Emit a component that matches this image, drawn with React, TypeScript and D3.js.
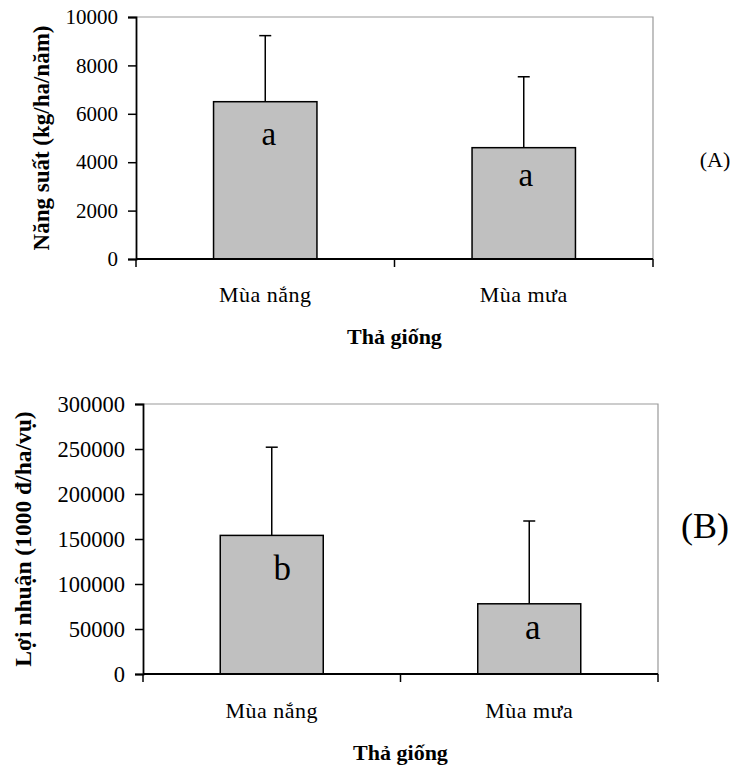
import { useEffect, useRef } from "react";
import * as d3 from "d3";

// mùa vụ
const seasons = ["Mùa nắng", "Mùa mưa"];

// (A) năng suất
const yieldMean = [6500, 4600];
const yieldErr = [2730, 2930];
const yieldLetters = ["a", "a"];
const yieldTicks = [0, 2000, 4000, 6000, 8000, 10000];

// (B) lợi nhuận
const profitMean = [154000, 78000];
const profitErr = [98000, 92000];
const profitLetters = ["b", "a"];
const profitTicks = [0, 50000, 100000, 150000, 200000, 250000, 300000];

const FONT = "'Liberation Serif', 'Times New Roman', serif";

type PanelProps = {
  left: number; right: number; top: number; bottom: number;
  yMax: number; ticks: number[]; means: number[]; errs: number[]; letters: string[];
  letterDx: number[]; letterY: number[]; letterSize: number; tickSize: number; labelSize: number;
  yLabel: string; yLabelX: number; panelTag: string; tagX: number; tagY: number; tagSize: number;
  catLabelY: number; titleY: number;
};

const drawPanel = (svg: d3.Selection<SVGSVGElement, unknown, null, undefined>, p: PanelProps) => {
  const g = svg.append("g");

  const x = d3.scaleBand().domain(seasons).range([p.left, p.right]).paddingInner(0).paddingOuter(0);
  const y = d3.scaleLinear().domain([0, p.yMax]).range([p.bottom, p.top]);
  const barW = x.bandwidth() * 0.4;

  // khung xám (trên, phải)
  g.append("path")
    .attr("d", `M${p.left},${p.top}H${p.right}V${p.bottom}`)
    .attr("fill", "none")
    .attr("stroke", "#999")
    .attr("stroke-width", 1.2);

  // cột
  g.selectAll("rect.bar")
    .data(p.means)
    .join("rect")
    .attr("class", "bar")
    .attr("x", (d, i) => x(seasons[i])! + x.bandwidth() / 2 - barW / 2)
    .attr("y", d => y(d))
    .attr("width", barW)
    .attr("height", d => p.bottom - y(d))
    .attr("fill", "#c0c0c0")
    .attr("stroke", "#000")
    .attr("stroke-width", 1.5);

  // thanh sai số
  p.means.forEach((m, i) => {
    const cx = x(seasons[i])! + x.bandwidth() / 2;
    g.append("line")
      .attr("x1", cx).attr("x2", cx)
      .attr("y1", y(m)).attr("y2", y(m + p.errs[i]))
      .attr("stroke", "#000").attr("stroke-width", 1.5);
    g.append("line")
      .attr("x1", cx - 6).attr("x2", cx + 6)
      .attr("y1", y(m + p.errs[i])).attr("y2", y(m + p.errs[i]))
      .attr("stroke", "#000").attr("stroke-width", 1.5);

    g.append("text")
      .text(p.letters[i])
      .attr("x", cx + p.letterDx[i])
      .attr("y", p.letterY[i])
      .attr("text-anchor", "middle")
      .attr("font-family", FONT)
      .attr("font-size", p.letterSize);
  });

  // trục y
  const yAxis = g.append("g")
    .attr("transform", `translate(${p.left},0)`)
    .call(d3.axisLeft(y).tickValues(p.ticks).tickSize(8).tickPadding(10).tickFormat(d3.format("d")));
  yAxis.select(".domain").attr("stroke", "#000").attr("stroke-width", 1.8);
  yAxis.selectAll(".tick line").attr("stroke", "#000").attr("stroke-width", 1.5);
  yAxis.selectAll("text")
    .attr("font-family", FONT)
    .attr("font-size", p.tickSize)
    .attr("fill", "#000");

  // trục x
  g.append("line")
    .attr("x1", p.left).attr("x2", p.right)
    .attr("y1", p.bottom).attr("y2", p.bottom)
    .attr("stroke", "#000").attr("stroke-width", 1.8);
  const bounds = [p.left, ...seasons.map(s => x(s)! + x.bandwidth())];
  g.selectAll("line.xtick")
    .data(bounds)
    .join("line")
    .attr("class", "xtick")
    .attr("x1", d => d).attr("x2", d => d)
    .attr("y1", p.bottom).attr("y2", p.bottom + 8)
    .attr("stroke", "#000").attr("stroke-width", 1.5);

  g.selectAll("text.cat")
    .data(seasons)
    .join("text")
    .attr("class", "cat")
    .text(d => d)
    .attr("x", d => x(d)! + x.bandwidth() / 2)
    .attr("y", p.catLabelY)
    .attr("text-anchor", "middle")
    .attr("font-family", FONT)
    .attr("font-size", 22)
    .attr("letter-spacing", 0.5);

  g.append("text")
    .text("Thả giống")
    .attr("x", (p.left + p.right) / 2)
    .attr("y", p.titleY)
    .attr("text-anchor", "middle")
    .attr("font-family", FONT)
    .attr("font-weight", 700)
    .attr("font-size", 22);

  g.append("text")
    .text(p.yLabel)
    .attr("transform", `translate(${p.yLabelX},${(p.top + p.bottom) / 2}) rotate(-90)`)
    .attr("text-anchor", "middle")
    .attr("font-family", FONT)
    .attr("font-weight", 700)
    .attr("font-size", p.labelSize);

  g.append("text")
    .text(p.panelTag)
    .attr("x", p.tagX)
    .attr("y", p.tagY)
    .attr("text-anchor", "middle")
    .attr("font-family", FONT)
    .attr("font-size", p.tagSize);
};

export default function App() {
  const svgRef = useRef<SVGSVGElement>(null);

  useEffect(() => {
    const svg = d3.select(svgRef.current!);
    svg.selectAll("*").remove();

    drawPanel(svg, {
      left: 136, right: 653, top: 17, bottom: 259,
      yMax: 10000, ticks: yieldTicks, means: yieldMean, errs: yieldErr, letters: yieldLetters,
      letterDx: [3.5, 2], letterY: [145, 186], letterSize: 33, tickSize: 21, labelSize: 23,
      yLabel: "Năng suất (kg/ha/năm)", yLabelX: 49,
      panelTag: "(A)", tagX: 715, tagY: 167, tagSize: 22,
      catLabelY: 302, titleY: 344,
    });

    drawPanel(svg, {
      left: 143, right: 658, top: 404, bottom: 674,
      yMax: 300000, ticks: profitTicks, means: profitMean, errs: profitErr, letters: profitLetters,
      letterDx: [10.5, 3.5], letterY: [580, 639], letterSize: 35, tickSize: 22.5, labelSize: 23.5,
      yLabel: "Lợi nhuận (1000 đ/ha/vụ)", yLabelX: 31,
      panelTag: "(B)", tagX: 705, tagY: 538, tagSize: 36,
      catLabelY: 718, titleY: 760,
    });
  }, []);

  return (
    <svg
      ref={svgRef}
      width={732}
      height={769}
      style={{ position: "absolute", left: 0, top: 0, background: "#fff" }}
    />
  );
}
